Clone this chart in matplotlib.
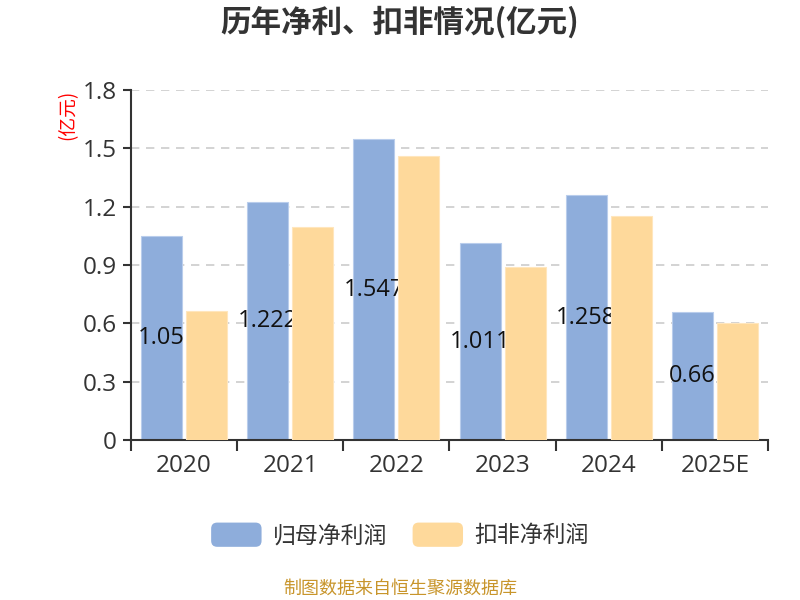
import matplotlib
matplotlib.use("Agg")
import matplotlib.pyplot as plt
import numpy as np
from matplotlib.patches import FancyBboxPatch
from matplotlib.legend_handler import HandlerPatch

plt.rcParams['font.family'] = ['Noto Sans CJK SC', 'DejaVu Sans']
numfont = ['Open Sans', 'Noto Sans CJK SC', 'DejaVu Sans']

years = ['2020', '2021', '2022', '2023', '2024', '2025E']
net_profit = [1.05, 1.222, 1.547, 1.011, 1.258, 0.66]
deducted = [0.663, 1.097, 1.46, 0.888, 1.152, 0.603]
series_names = ['归母净利润', '扣非净利润']
yticks = [0, 0.3, 0.6, 0.9, 1.2, 1.5, 1.8]
ytick_labels = ['0', '0.3', '0.6', '0.9', '1.2', '1.5', '1.8']

blue = '#8eaddb'
orange = '#fed99b'
dark = '#333333'

fig = plt.figure(figsize=(8, 6), dpi=100)
ax = fig.add_axes([131/800, 1-440/600, (768-131)/800, 350/600])

x = np.arange(len(years))
w = 0.387
off = 0.212
ax.bar(x - off, net_profit, w, color=blue, edgecolor='#b9cdec', linewidth=0.8, zorder=2)
ax.bar(x + off, deducted, w, color=orange, edgecolor='#ffe6bd', linewidth=0.8, zorder=4)
for xi, v in zip(x, net_profit):
    ax.text(xi - off, v/2, f'{v:g}', ha='center', va='center', fontsize=17,
            color='#111111', zorder=3, family=numfont)

ax.set_xlim(-0.5, len(years) - 0.5)
ax.set_ylim(0, 1.8)
ax.set_yticks(yticks)
ax.set_yticklabels(ytick_labels, family=numfont)
ax.set_xticks(x)
ax.set_xticklabels(years, family=numfont)
ax.set_xticks(np.arange(len(years) + 1) - 0.5, minor=True)
ax.tick_params(axis='x', which='major', length=0, pad=10, labelsize=17.5, labelcolor=dark)
ax.tick_params(axis='x', which='minor', length=8, width=1.5, color=dark)
ax.tick_params(axis='y', which='major', length=6, width=1.5, color=dark, labelsize=17.5,
               labelcolor=dark, pad=4)
ax.grid(axis='y', linestyle=(0, (5, 4)), color='#cccccc', linewidth=1.2, zorder=0)
ax.set_axisbelow(True)
for s in ['top', 'right']:
    ax.spines[s].set_visible(False)
for s in ['left', 'bottom']:
    ax.spines[s].set_color(dark)
    ax.spines[s].set_linewidth(1.5)

fig.text(400/800, 1-22/600, '历年净利、扣非情况(亿元)', ha='center', va='center',
         fontsize=22, fontweight='bold', color=dark)
fig.text(68/800, 1-115/600, '(亿元)', rotation=90, ha='center', va='center',
         fontsize=13.5, color='red')
fig.text(400/800, 1-589/600, '制图数据来自恒生聚源数据库', ha='center', va='center',
         fontsize=13, color='#c8952b')


class RoundHandler(HandlerPatch):
    def create_artists(self, legend, orig_handle, xdescent, ydescent, width, height,
                       fontsize, trans):
        p = FancyBboxPatch((-xdescent, -ydescent), width, height,
                           boxstyle='round,pad=0,rounding_size=%f' % (height * 0.25),
                           facecolor=orig_handle.get_facecolor(), edgecolor='none',
                           transform=trans)
        return [p]

h1 = plt.Rectangle((0, 0), 1, 1, facecolor=blue)
h2 = plt.Rectangle((0, 0), 1, 1, facecolor=orange)
leg = fig.legend([h1, h2], series_names, loc='center', bbox_to_anchor=(400/800, 1-535/600),
                 ncol=2, frameon=False, fontsize=16.5, handlelength=2.2, handleheight=1.25,
                 handletextpad=0.5, columnspacing=1.1,
                 handler_map={plt.Rectangle: RoundHandler()})
for t in leg.get_texts():
    t.set_color(dark)

fig.savefig('out.png', dpi=100)
